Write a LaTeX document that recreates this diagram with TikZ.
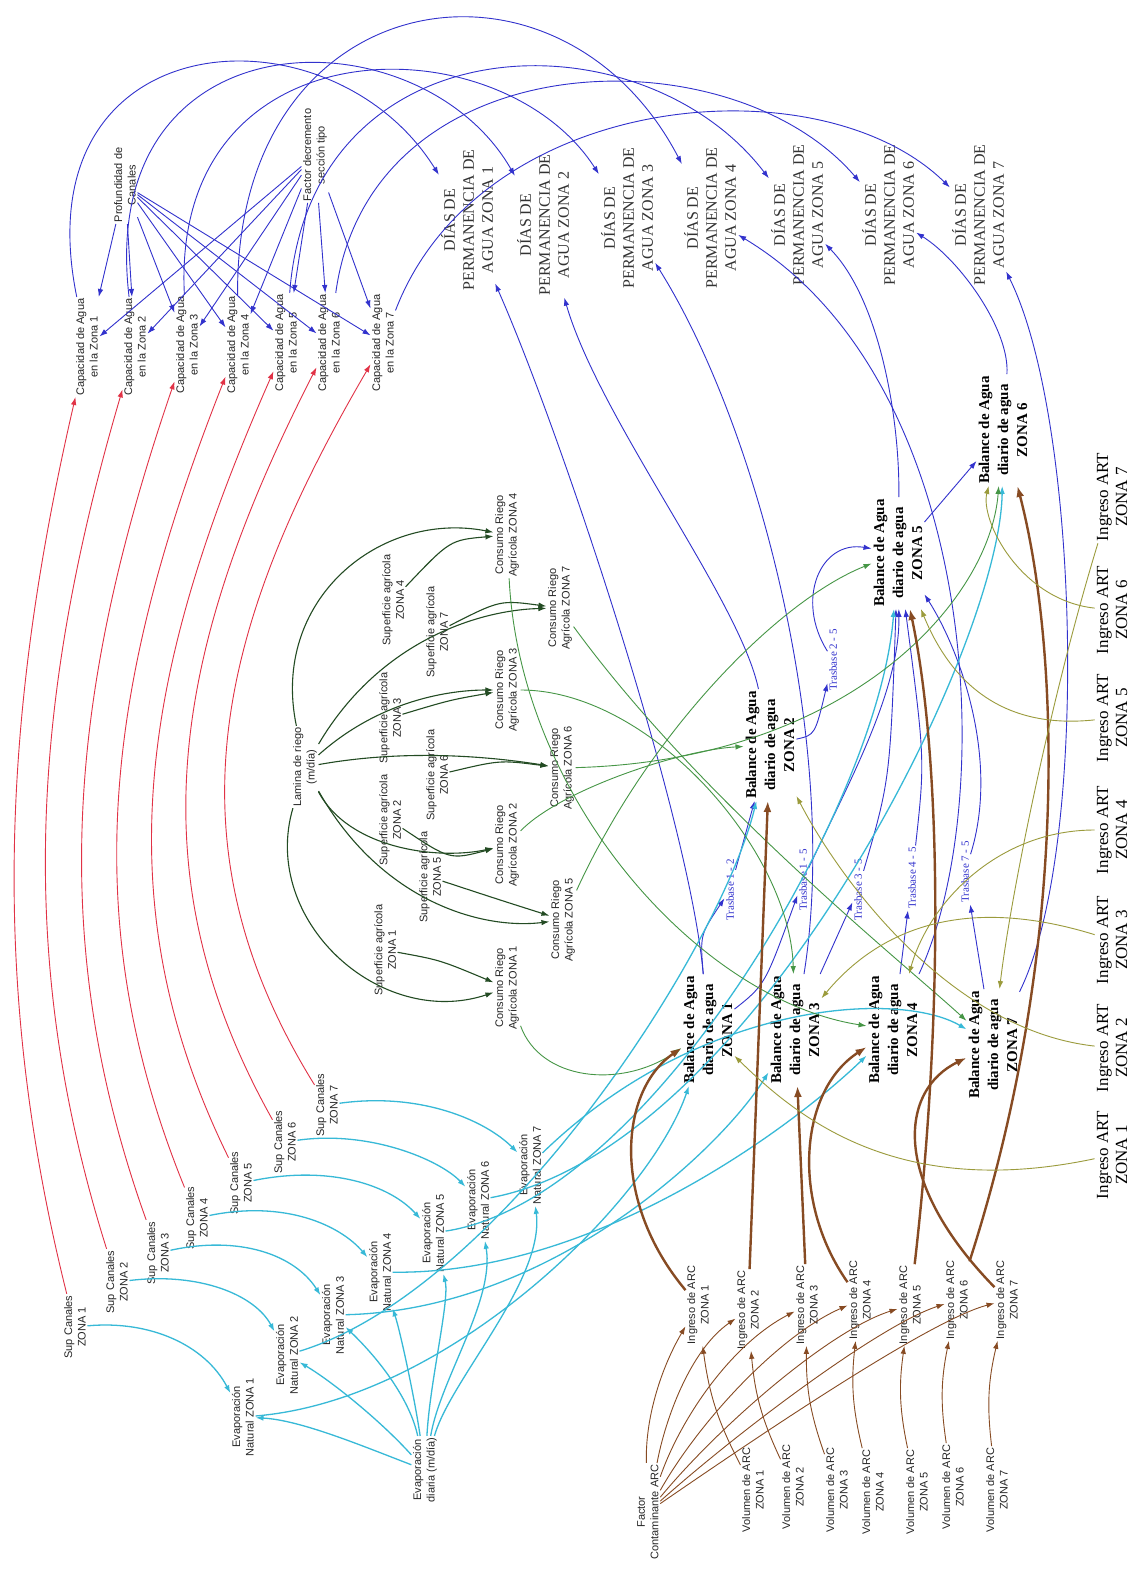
\documentclass[tikz,border=0pt]{standalone}
\usepackage{fontspec}
\setmainfont{Liberation Serif}
\newfontfamily\sansf{Liberation Sans}
\usetikzlibrary{arrows.meta}
\definecolor{cred}{RGB}{225,50,70}
\definecolor{cblue}{RGB}{50,50,205}
\definecolor{ccyan}{RGB}{55,185,215}
\definecolor{cdgreen}{RGB}{35,75,35}
\definecolor{cgreen}{RGB}{70,150,70}
\definecolor{cbrown}{RGB}{135,75,35}
\definecolor{colive}{RGB}{155,155,60}
\tikzset{
  lbl/.style={font=\sansf\fontsize{11}{13.5}\selectfont, align=center, rotate=90, inner sep=1.5pt, text=black!85},
  dias/.style={font=\fontsize{16}{19}\selectfont, align=center, rotate=90, inner sep=2pt, text=black!80},
  bal/.style={font=\bfseries\fontsize{15}{19}\selectfont, align=center, rotate=90, inner sep=2pt},
  art/.style={font=\fontsize{17}{19}\selectfont, align=center, rotate=90, inner sep=2pt},
  tras/.style={font=\fontsize{11}{12}\selectfont, text=cblue, rotate=90, inner sep=1.5pt},
  arr/.style={-{Latex[length=8pt,width=5.5pt]}, line width=0.9pt},
  redc/.style={arr, draw=cred},
  bluec/.style={arr, draw=cblue},
  cyanc/.style={arr, draw=ccyan, line width=1.3pt},
  dgreenc/.style={arr, draw=cdgreen, line width=1.1pt},
  greenc/.style={arr, draw=cgreen},
  brownc/.style={arr, draw=cbrown},
  brownthick/.style={-{Latex[length=11pt,width=8pt]}, draw=cbrown, line width=2.4pt},
  olivec/.style={arr, draw=colive},
}
\begin{document}
\begin{tikzpicture}[x=1pt,y=1pt]
\useasboundingbox[fill=white] (0,0) rectangle (1143,-1574);
% ---------- Capacidad ----------
\node[lbl] (cap1) at (87,-347) {Capacidad de Agua\\en la Zona 1};
\node[lbl] (cap2) at (135,-347) {Capacidad de Agua\\en la Zona 2};
\node[lbl] (cap3) at (187,-345) {Capacidad de Agua\\en la Zona 3};
\node[lbl] (cap4) at (238,-345) {Capacidad de Agua\\en la Zona 4};
\node[lbl] (cap5) at (286,-343) {Capacidad de Agua\\en la Zona 5};
\node[lbl] (cap6) at (329,-343) {Capacidad de Agua\\en la Zona 6};
\node[lbl] (cap7) at (383,-343) {Capacidad de Agua\\en la Zona 7};
\node[lbl] (prof) at (125,-185) {Profundidad de\\Canales};
\node[lbl] (fact) at (315,-155) {Factor decremento\\sección tipo};
% ---------- DIAS ----------
\node[dias] (d1) at (467,-220) {DÍAS DE\\PERMANENCIA DE\\AGUA ZONA 1};
\node[dias] (d2) at (543,-225) {DÍAS DE\\PERMANENCIA DE\\AGUA ZONA 2};
\node[dias] (d3) at (627,-218) {DÍAS DE\\PERMANENCIA DE\\AGUA ZONA 3};
\node[dias] (d4) at (710,-218) {DÍAS DE\\PERMANENCIA DE\\AGUA ZONA 4};
\node[dias] (d5) at (797,-215) {DÍAS DE\\PERMANENCIA DE\\AGUA ZONA 5};
\node[dias] (d6) at (888,-215) {DÍAS DE\\PERMANENCIA DE\\AGUA ZONA 6};
\node[dias] (d7) at (978,-215) {DÍAS DE\\PERMANENCIA DE\\AGUA ZONA 7};
% ---------- Sup Canales ----------
\node[lbl] (sc1) at (75,-1327) {Sup Canales\\ZONA 1};
\node[lbl] (sc2) at (117,-1282) {Sup Canales\\ZONA 2};
\node[lbl] (sc3) at (158,-1253) {Sup Canales\\ZONA 3};
\node[lbl] (sc4) at (197,-1218) {Sup Canales\\ZONA 4};
\node[lbl] (sc5) at (241,-1183) {Sup Canales\\ZONA 5};
\node[lbl] (sc6) at (285,-1142) {Sup Canales\\ZONA 6};
\node[lbl] (sc7) at (327,-1105) {Sup Canales\\ZONA 7};
% ---------- Evaporacion ----------
\node[lbl] (en1) at (243,-1417) {Evaporación\\Natural ZONA 1};
\node[lbl] (en2) at (287,-1355) {Evaporación\\Natural ZONA 2};
\node[lbl] (en3) at (333,-1315) {Evaporación\\Natural ZONA 3};
\node[lbl] (en4) at (380,-1272) {Evaporación\\Natural ZONA 4};
\node[lbl] (en5) at (433,-1233) {Evaporación\\Natural ZONA 5};
\node[lbl] (en6) at (478,-1200) {Evaporación\\Natural ZONA 6};
\node[lbl] (en7) at (530,-1165) {Evaporación\\Natural ZONA 7};
\node[lbl] (ed) at (425,-1470) {Evaporación\\diaria (m/día)};
% ---------- Riego ----------
\node[lbl] (lam) at (305,-767) {Lamina de riego\\(m/día)};
\node[lbl] (sa1) at (385,-950) {Superficie agrícola\\ZONA 1};
\node[lbl] (sa2) at (390,-820) {Superficie agrícola\\ZONA 2};
\node[lbl] (sa3) at (390,-718) {Superficie agrícola\\ZONA 3};
\node[lbl] (sa4) at (393,-600) {Superficie agrícola\\ZONA 4};
\node[lbl] (sa5) at (430,-877) {Superficie agrícola\\ZONA 5};
\node[lbl] (sa6) at (437,-775) {Superficie agrícola\\ZONA 6};
\node[lbl] (sa7) at (437,-632) {Superficie agrícola\\ZONA 7};
\node[lbl] (cr1) at (507,-988) {Consumo Riego\\Agrícola ZONA 1};
\node[lbl] (cr2) at (507,-845) {Consumo Riego\\Agrícola ZONA 2};
\node[lbl] (cr3) at (507,-690) {Consumo Riego\\Agrícola ZONA 3};
\node[lbl] (cr4) at (507,-535) {Consumo Riego\\Agrícola ZONA 4};
\node[lbl] (cr5) at (563,-920) {Consumo Riego\\Agrícola ZONA 5};
\node[lbl] (cr6) at (562,-768) {Consumo Riego\\Agrícola ZONA 6};
\node[lbl] (cr7) at (560,-608) {Consumo Riego\\Agrícola ZONA 7};
% ---------- Balance ----------
\node[bal] (b1) at (708,-1030) {Balance de Agua\\diario de agua\\ZONA 1};
\node[bal] (b2) at (770,-745) {Balance de Agua\\diario de agua\\ZONA 2};
\node[bal] (b3) at (795,-1030) {Balance de Agua\\diario de agua\\ZONA 3};
\node[bal] (b4) at (893,-1030) {Balance de Agua\\diario de agua\\ZONA 4};
\node[bal] (b5) at (898,-553) {Balance de Agua\\diario de agua\\ZONA 5};
\node[bal] (b6) at (1003,-430) {Balance de Agua\\diario de agua\\ZONA 6};
\node[bal] (b7) at (993,-1045) {Balance de Agua\\diario de agua\\ZONA 7};
% ---------- Trasbase ----------
\node[tras] (t12) at (730,-890) {Trasbase 1 - 2};
\node[tras] (t15) at (803,-880) {Trasbase 1 - 5};
\node[tras] (t35) at (858,-890) {Trasbase 3 - 5};
\node[tras] (t45) at (912,-878) {Trasbase 4 - 5};
\node[tras] (t75) at (965,-872) {Trasbase 7 - 5};
\node[tras] (t25) at (833,-660) {Trasbase 2 - 5};
% ---------- Ingreso ART ----------
\node[art] (ia1) at (1112,-1155) {Ingreso ART\\ZONA 1};
\node[art] (ia2) at (1112,-1048) {Ingreso ART\\ZONA 2};
\node[art] (ia3) at (1112,-940) {Ingreso ART\\ZONA 3};
\node[art] (ia4) at (1112,-830) {Ingreso ART\\ZONA 4};
\node[art] (ia5) at (1112,-718) {Ingreso ART\\ZONA 5};
\node[art] (ia6) at (1112,-610) {Ingreso ART\\ZONA 6};
\node[art] (ia7) at (1112,-497) {Ingreso ART\\ZONA 7};
% ---------- ARC ----------
\node[lbl] (fc) at (648,-1512) {Factor\\Contaminante ARC};
\node[lbl] (ic1) at (698,-1305) {Ingreso de ARC\\ZONA 1};
\node[lbl] (ic2) at (748,-1310) {Ingreso de ARC\\ZONA 2};
\node[lbl] (ic3) at (807,-1305) {Ingreso de ARC\\ZONA 3};
\node[lbl] (ic4) at (860,-1300) {Ingreso de ARC\\ZONA 4};
\node[lbl] (ic5) at (910,-1305) {Ingreso de ARC\\ZONA 5};
\node[lbl] (ic6) at (957,-1300) {Ingreso de ARC\\ZONA 6};
\node[lbl] (ic7) at (1007,-1300) {Ingreso de ARC\\ZONA 7};
\node[lbl] (v1) at (753,-1490) {Volumen de ARC\\ZONA 1};
\node[lbl] (v2) at (793,-1487) {Volumen de ARC\\ZONA 2};
\node[lbl] (v3) at (837,-1490) {Volumen de ARC\\ZONA 3};
\node[lbl] (v4) at (873,-1492) {Volumen de ARC\\ZONA 4};
\node[lbl] (v5) at (917,-1492) {Volumen de ARC\\ZONA 5};
\node[lbl] (v6) at (953,-1487) {Volumen de ARC\\ZONA 6};
\node[lbl] (v7) at (997,-1490) {Volumen de ARC\\ZONA 7};

% ===== red: Sup Canales -> Capacidad =====
\draw[redc] (sc1) .. controls (-7,-998) and (-2,-732) .. (cap1);
\draw[redc] (sc2) .. controls (19,-970) and (27,-714) .. (cap2);
\draw[redc] (sc3) .. controls (47,-943) and (67,-695) .. (cap3);
\draw[redc] (sc4) .. controls (74,-916) and (107,-677) .. (cap4);
\draw[redc] (sc5) .. controls (100,-896) and (145,-663) .. (cap5);
\draw[redc] (sc6) .. controls (133,-871) and (173,-648) .. (cap6);
\draw[redc] (sc7) .. controls (164,-842) and (217,-627) .. (cap7);
% ===== blue: Profundidad / Factor -> Capacidad =====
\foreach \k in {1,...,7} {
  \draw[bluec] (prof) -- (cap\k);
  \draw[bluec] (fact) -- (cap\k);
}
% ===== blue: Capacidad -> DIAS =====
\draw[bluec] (cap1) .. controls (20,-20) and (330,0) .. (d1);
\draw[bluec] (cap2) .. controls (95,-10) and (420,-10) .. (d2);
\draw[bluec] (cap3) .. controls (170,-20) and (500,-20) .. (d3);
\draw[bluec] (cap4) .. controls (235,20) and (560,70) .. (d4);
\draw[bluec] (cap5) .. controls (310,-20) and (640,-10) .. (d5);
\draw[bluec] (cap6) .. controls (370,-40) and (730,-30) .. (d6);
\draw[bluec] (cap7) .. controls (480,-90) and (820,-60) .. (d7);
% ===== blue: Balance -> DIAS =====
\draw[bluec] (b1) .. controls (690,-820) and (560,-430) .. (d1);
\draw[bluec] (b2) .. controls (740,-600) and (600,-420) .. (d2);
\draw[bluec] (b3) .. controls (840,-750) and (760,-430) .. (d3);
\draw[bluec] (b4) .. controls (1000,-800) and (980,-380) .. (d4);
\draw[bluec] (b5) .. controls (900,-420) and (880,-300) .. (d5);
\draw[bluec] (b6) .. controls (1010,-330) and (960,-260) .. (d6);
\draw[bluec] (b7) .. controls (1090,-850) and (1080,-420) .. (d7);
% ===== blue: Trasbase =====
\draw[bluec] (b1) .. controls (700,-935) .. (t12);
\draw[bluec] (t12) -- (b2);
\draw[bluec] (b1) .. controls (765,-985) .. (t15);
\draw[bluec] (t15) .. controls (850,-780) and (900,-690) .. (b5);
\draw[bluec] (b3) -- (t35);
\draw[bluec] (t35) .. controls (890,-780) .. (b5);
\draw[bluec] (b4) -- (t45);
\draw[bluec] (t45) .. controls (925,-760) .. (b5);
\draw[bluec] (b7) -- (t75);
\draw[bluec] (t75) .. controls (1000,-760) and (960,-650) .. (b5);
\draw[bluec] (b2) .. controls (815,-735) .. (t25);
\draw[bluec] (t25) .. controls (795,-600) and (820,-540) .. (b5);
\draw[bluec] (b5) -- (b6);
% ===== cyan: Sup Canales -> Evaporacion =====
\draw[cyanc] (sc1) .. controls (150,-1320) and (205,-1345) .. (en1);
\draw[cyanc] (sc2) .. controls (200,-1272) and (255,-1295) .. (en2);
\draw[cyanc] (sc3) .. controls (240,-1235) and (295,-1255) .. (en3);
\draw[cyanc] (sc4) .. controls (285,-1200) and (340,-1225) .. (en4);
\draw[cyanc] (sc5) .. controls (330,-1165) and (390,-1185) .. (en5);
\draw[cyanc] (sc6) .. controls (370,-1130) and (440,-1160) .. (en6);
\draw[cyanc] (sc7) .. controls (420,-1092) and (485,-1120) .. (en7);
% ===== cyan: Evaporacion diaria -> Evaporacion =====
\draw[cyanc] (ed) .. controls (360,-1445) and (300,-1420) .. (en1);
\draw[cyanc] (ed) .. controls (380,-1420) and (330,-1380) .. (en2);
\draw[cyanc] (ed) .. controls (410,-1400) and (380,-1360) .. (en3);
\draw[cyanc] (ed) .. controls (415,-1400) and (400,-1330) .. (en4);
\draw[cyanc] (ed) .. controls (430,-1380) and (450,-1300) .. (en5);
\draw[cyanc] (ed) .. controls (440,-1380) and (495,-1300) .. (en6);
\draw[cyanc] (ed) .. controls (450,-1380) and (545,-1280) .. (en7);
% ===== cyan: Evaporacion -> Balance =====
\draw[cyanc] (en1) .. controls (450,-1400) and (650,-1200) .. (b1);
\draw[cyanc] (en2) .. controls (500,-1290) and (720,-950) .. (b2);
\draw[cyanc] (en3) .. controls (550,-1310) and (720,-1150) .. (b3);
\draw[cyanc] (en4) .. controls (600,-1275) and (800,-1120) .. (b4);
\draw[cyanc] (en5) .. controls (650,-1200) and (880,-800) .. (b5);
\draw[cyanc] (en6) .. controls (750,-1150) and (1000,-650) .. (b6);
\draw[cyanc] (en7) .. controls (700,-1000) and (900,-990) .. (b7);
% ===== dark green: Lamina / Superficie -> Consumo =====
\draw[dgreenc] (lam) .. controls (270,-600) and (380,-510) .. (cr4);
\draw[dgreenc] (lam) .. controls (260,-920) and (380,-1030) .. (cr1);
\draw[dgreenc] (lam) .. controls (350,-850) and (440,-860) .. (cr2);
\draw[dgreenc] (lam) .. controls (380,-700) and (450,-690) .. (cr3);
\draw[dgreenc] (lam) .. controls (380,-900) and (480,-930) .. (cr5);
\draw[dgreenc] (lam) .. controls (400,-750) and (480,-755) .. (cr6);
\draw[dgreenc] (lam) .. controls (380,-640) and (480,-610) .. (cr7);
\draw[dgreenc] (sa1) .. controls (440,-960) .. (cr1);
\draw[dgreenc] (sa2) .. controls (450,-860) .. (cr2);
\draw[dgreenc] (sa3) .. controls (450,-700) .. (cr3);
\draw[dgreenc] (sa4) .. controls (450,-540) .. (cr4);
\draw[dgreenc] (sa5) .. controls (500,-900) .. (cr5);
\draw[dgreenc] (sa6) .. controls (500,-760) .. (cr6);
\draw[dgreenc] (sa7) .. controls (500,-600) .. (cr7);
% ===== green: Consumo -> Balance =====
\draw[greenc] (cr1) .. controls (540,-1080) and (620,-1090) .. (b1);
\draw[greenc] (cr2) .. controls (560,-790) and (680,-750) .. (b2);
\draw[greenc] (cr3) .. controls (650,-690) and (790,-850) .. (b3);
\draw[greenc] (cr4) .. controls (520,-800) and (700,-1000) .. (b4);
\draw[greenc] (cr5) .. controls (650,-730) and (780,-600) .. (b5);
\draw[greenc] (cr6) .. controls (850,-760) and (990,-600) .. (b6);
\draw[greenc] (cr7) .. controls (700,-800) and (900,-960) .. (b7);
% ===== brown: Factor Contaminante -> Ingreso ARC =====
\draw[brownc] (fc) .. controls (645,-1420) and (660,-1370) .. (ic1);
\draw[brownc] (fc) .. controls (665,-1420) and (690,-1350) .. (ic2);
\draw[brownc] (fc) .. controls (680,-1420) and (730,-1345) .. (ic3);
\draw[brownc] (fc) .. controls (700,-1420) and (780,-1335) .. (ic4);
\draw[brownc] (fc) .. controls (720,-1425) and (830,-1330) .. (ic5);
\draw[brownc] (fc) .. controls (740,-1430) and (880,-1325) .. (ic6);
\draw[brownc] (fc) .. controls (760,-1435) and (930,-1320) .. (ic7);
% ===== brown: Volumen -> Ingreso ARC =====
\foreach \k in {1,...,7} { \draw[brownc] (v\k) to[bend left=10] (ic\k); }
% ===== brown thick: Ingreso ARC -> Balance =====
\draw[brownthick] (ic1) .. controls (610,-1200) and (620,-1090) .. (b1);
\draw[brownthick] (ic2) -- (b2);
\draw[brownthick] (ic3) -- (b3);
\draw[brownthick] (ic4) .. controls (790,-1200) and (800,-1090) .. (b4);
\draw[brownthick] (ic5) .. controls (945,-1000) and (940,-750) .. (b5);
\draw[brownthick] (ic6) .. controls (1070,-950) and (1060,-650) .. (b6);
\draw[brownthick] (ic7) .. controls (890,-1180) and (900,-1090) .. (b7);
% ===== olive: Ingreso ART -> Balance =====
\draw[olivec] (ia1) .. controls (900,-1200) and (800,-1120) .. (b1);
\draw[olivec] (ia2) .. controls (950,-1030) and (840,-880) .. (b2);
\draw[olivec] (ia3) .. controls (950,-890) and (870,-940) .. (b3);
\draw[olivec] (ia4) .. controls (1000,-830) and (930,-900) .. (b4);
\draw[olivec] (ia5) .. controls (1000,-730) and (950,-680) .. (b5);
\draw[olivec] (ia6) .. controls (1020,-600) and (980,-520) .. (b6);
\draw[olivec] (ia7) .. controls (1050,-700) and (1010,-900) .. (b7);
\end{tikzpicture}
\end{document}
